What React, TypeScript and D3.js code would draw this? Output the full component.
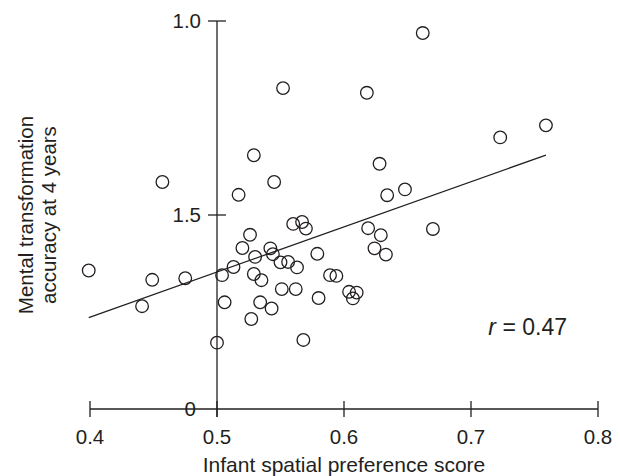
import * as d3 from "d3";

// infant spatial preference score (x) and mental transformation accuracy (y)
const infantScores = [
  0.399, 0.441, 0.449, 0.457, 0.475, 0.5, 0.504, 0.506, 0.513, 0.517,
  0.52, 0.526, 0.527, 0.529, 0.53, 0.529, 0.535, 0.534, 0.542, 0.544,
  0.543, 0.545, 0.55, 0.551, 0.552, 0.556, 0.56, 0.562, 0.563, 0.567,
  0.568, 0.57, 0.579, 0.58, 0.589, 0.594, 0.604, 0.607, 0.61, 0.618,
  0.619, 0.624, 0.628, 0.629, 0.633, 0.634, 0.648, 0.662, 0.67, 0.723,
  0.759,
];
const accuracy = [
  0.357, 0.265, 0.333, 0.585, 0.337, 0.171, 0.345, 0.275, 0.366, 0.552,
  0.415, 0.449, 0.232, 0.654, 0.392, 0.348, 0.332, 0.275, 0.414, 0.399,
  0.259, 0.585, 0.378, 0.309, 0.827, 0.379, 0.477, 0.309, 0.365, 0.482,
  0.178, 0.465, 0.4, 0.286, 0.345, 0.343, 0.302, 0.285, 0.3, 0.815,
  0.466, 0.414, 0.632, 0.448, 0.398, 0.551, 0.566, 0.969, 0.464, 0.7,
  0.731,
];

// fitted line, as drawn
const fitSlope = 1.164;
const fitIntercept = -0.229;
const fitRange = [0.399, 0.759];

const xTicks = [0.4, 0.5, 0.6, 0.7, 0.8];
const xTickLabels = ["0.4", "0.5", "0.6", "0.7", "0.8"];
const yTicks = [0, 0.5, 1.0];
const yTickLabels = ["0", "1.5", "1.0"]; // as printed in the figure
const yAxisAt = 0.5;
const corrLabel = "0.47";

const width = 620;
const height = 476;
const font = "'Liberation Sans', Arial, Helvetica, sans-serif";
const ink = "#231f20";

export default function App() {
  const x = d3.scaleLinear().domain([0.4, 0.8]).range([90, 598]);
  const y = d3.scaleLinear().domain([0, 1]).range([409, 21]);

  const points = infantScores.map((v, i) => ({ x: v, y: accuracy[i] }));
  const fit = d3
    .line<number>()
    .x((d) => x(d))
    .y((d) => y(fitIntercept + fitSlope * d));

  const ax = x(yAxisAt);

  return (
    <svg
      width={width}
      height={height}
      style={{ position: "absolute", left: 0, top: 0, background: "#fff" }}
      fontFamily={font}
    >
      {/* x axis */}
      <line x1={x(0.4)} x2={x(0.8)} y1={y(0)} y2={y(0)} stroke={ink} strokeWidth={1.3} />
      {xTicks.map((t, i) => (
        <g key={`xt-${i}`}>
          <line x1={x(t)} x2={x(t)} y1={y(0) - 8} y2={y(0) + 8} stroke={ink} strokeWidth={1.3} />
          <text x={x(t)} y={443.5} textAnchor="middle" fontSize={20.5} fill={ink}>
            {xTickLabels[i]}
          </text>
        </g>
      ))}
      <text x={x(0.6)} y={472} textAnchor="middle" fontSize={21} fill={ink}>
        Infant spatial preference score
      </text>

      {/* y axis */}
      <line x1={ax} x2={ax} y1={y(1)} y2={y(0) + 8} stroke={ink} strokeWidth={1.3} />
      {yTicks.map((t, i) => (
        <g key={`yt-${i}`}>
          {t > 0 && (
            <line x1={ax - 9} x2={ax + 9} y1={y(t)} y2={y(t)} stroke={ink} strokeWidth={1.3} />
          )}
          <text
            x={ax - (t > 0 ? 16 : 21)}
            y={y(t)}
            dy="0.35em"
            textAnchor="end"
            fontSize={20.5}
            fill={ink}
          >
            {yTickLabels[i]}
          </text>
        </g>
      ))}
      <g transform={`translate(0, ${y(0.5)}) rotate(-90)`} fontSize={20.5} fill={ink}>
        <text x={0} y={33} textAnchor="middle">
          Mental transformation
        </text>
        <text x={0} y={56} textAnchor="middle">
          accuracy at 4 years
        </text>
      </g>

      {/* regression line */}
      <path d={fit(fitRange) || ""} fill="none" stroke={ink} strokeWidth={1.3} />

      {/* points */}
      {points.map((p, i) => (
        <circle
          key={`pt-${i}`}
          cx={x(p.x)}
          cy={y(p.y)}
          r={6.3}
          fill="none"
          stroke={ink}
          strokeWidth={1.3}
        />
      ))}

      <text x={567} y={335} textAnchor="end" fontSize={23} fill={ink}>
        <tspan fontStyle="italic">r</tspan> = {corrLabel}
      </text>
    </svg>
  );
}
